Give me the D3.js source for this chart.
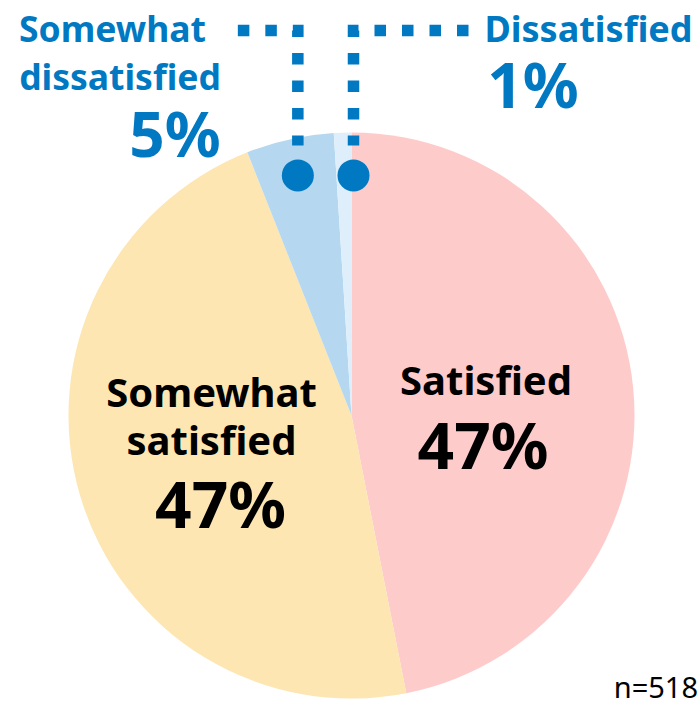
<!DOCTYPE html>
<html>
<head>
<meta charset="utf-8">
<script src="https://cdn.jsdelivr.net/npm/d3@7"></script>
<style>
  body { margin: 0; background: #fff; }
  text { font-family: "Noto Sans", "Open Sans", sans-serif; }
</style>
</head>
<body>
<div id="chart"></div>
<script>
const categories = ['Satisfied', 'Somewhat satisfied', 'Somewhat dissatisfied', 'Dissatisfied'];
const values = [46.9, 47.1, 5.0, 1.0];
const percentLabels = ['47%', '47%', '5%', '1%'];
const colors = ['#fecbcb', '#fde6b1', '#b5d8f0', '#deeffb'];
const sampleLabel = 'n=518';

const width = 700, height = 709;
const cx = 351.5, cy = 415.5, radius = 283;
const blue = '#0079c2';

const svg = d3.select('#chart').append('svg')
    .attr('width', width)
    .attr('height', height);

const pie = d3.pie().sort(null).value((d) => d.value);
const arc = d3.arc().innerRadius(0).outerRadius(radius);

const data = categories.map((c, i) => ({name: c, value: values[i], label: percentLabels[i], color: colors[i]}));
const arcs = pie(data);

const g = svg.append('g').attr('transform', 'translate(' + cx + ',' + cy + ')');

g.selectAll('path')
    .data(arcs)
    .enter().append('path')
    .attr('d', arc)
    .attr('fill', (d) => d.data.color);

// labels inside the two big slices
const inner = [
    {lines: ['Satisfied'], pct: arcs[0], x: 134.5, y: -21, pctY: 53},
    {lines: ['Somewhat', 'satisfied'], pct: arcs[1], x: -140, y: -9, pctY: 112}
];
inner.forEach((lab) => {
    const t = g.append('g').attr('transform', 'translate(' + lab.x + ',0)');
    lab.lines.forEach((line, i) => {
        t.append('text')
            .attr('y', lab.y + i * 48)
            .attr('text-anchor', 'middle')
            .attr('font-size', 40)
            .attr('font-weight', 700)
            .attr('fill', '#000')
            .text(line);
    });
    t.append('text')
        .attr('y', lab.pctY)
        .attr('x', lab.lines.length > 1 ? 9 : -3)
        .attr('text-anchor', 'middle')
        .attr('font-size', 64)
        .attr('font-weight', 700)
        .attr('fill', '#000')
        .text(lab.pct.data.label);
});

// leader dots for the small slices
const dotR = radius - 37;
const mid = (d) => (d.startAngle + d.endAngle) / 2;
const leaderY = 30.5 - cy;
const dotLeft = {x: Math.sin(mid(arcs[2])) * dotR, y: -Math.cos(mid(arcs[2])) * dotR};
const dotRight = {x: Math.sin(arcs[3].endAngle) * dotR + 2, y: dotLeft.y};

const dash = '11.5 16';
g.append('path')
    .attr('d', 'M' + (dotLeft.x - 60) + ',' + leaderY + 'H' + dotLeft.x + 'V' + (dotLeft.y - 30))
    .attr('fill', 'none')
    .attr('stroke', blue)
    .attr('stroke-width', 11.5)
    .attr('stroke-dasharray', dash);
g.append('path')
    .attr('d', 'M' + (dotRight.x + 115) + ',' + leaderY + 'H' + dotRight.x + 'V' + (dotRight.y - 30))
    .attr('fill', 'none')
    .attr('stroke', blue)
    .attr('stroke-width', 11.5)
    .attr('stroke-dasharray', dash);

[dotLeft, dotRight].forEach((p) => {
    g.append('circle')
        .attr('cx', p.x)
        .attr('cy', p.y)
        .attr('r', 16)
        .attr('fill', blue);
});

// outside labels
const outer = svg.append('g').attr('fill', blue).attr('font-weight', 700);
outer.append('text').attr('x', 112.5).attr('y', 42).attr('text-anchor', 'middle')
    .attr('font-size', 35.5).text('Somewhat');
outer.append('text').attr('x', 120).attr('y', 90).attr('text-anchor', 'middle')
    .attr('font-size', 35.5).text('dissatisfied');
outer.append('text').attr('x', 175).attr('y', 157).attr('text-anchor', 'middle')
    .attr('font-size', 62).text(arcs[2].data.label);

outer.append('text').attr('x', 588.5).attr('y', 42).attr('text-anchor', 'middle')
    .attr('font-size', 36).text('Dissatisfied');
outer.append('text').attr('x', 533).attr('y', 108).attr('text-anchor', 'middle')
    .attr('font-size', 62).text(arcs[3].data.label);

svg.append('text')
    .attr('x', 698)
    .attr('y', 698)
    .attr('text-anchor', 'end')
    .attr('font-size', 29)
    .attr('fill', '#000')
    .text(sampleLabel);
</script>
</body>
</html>
